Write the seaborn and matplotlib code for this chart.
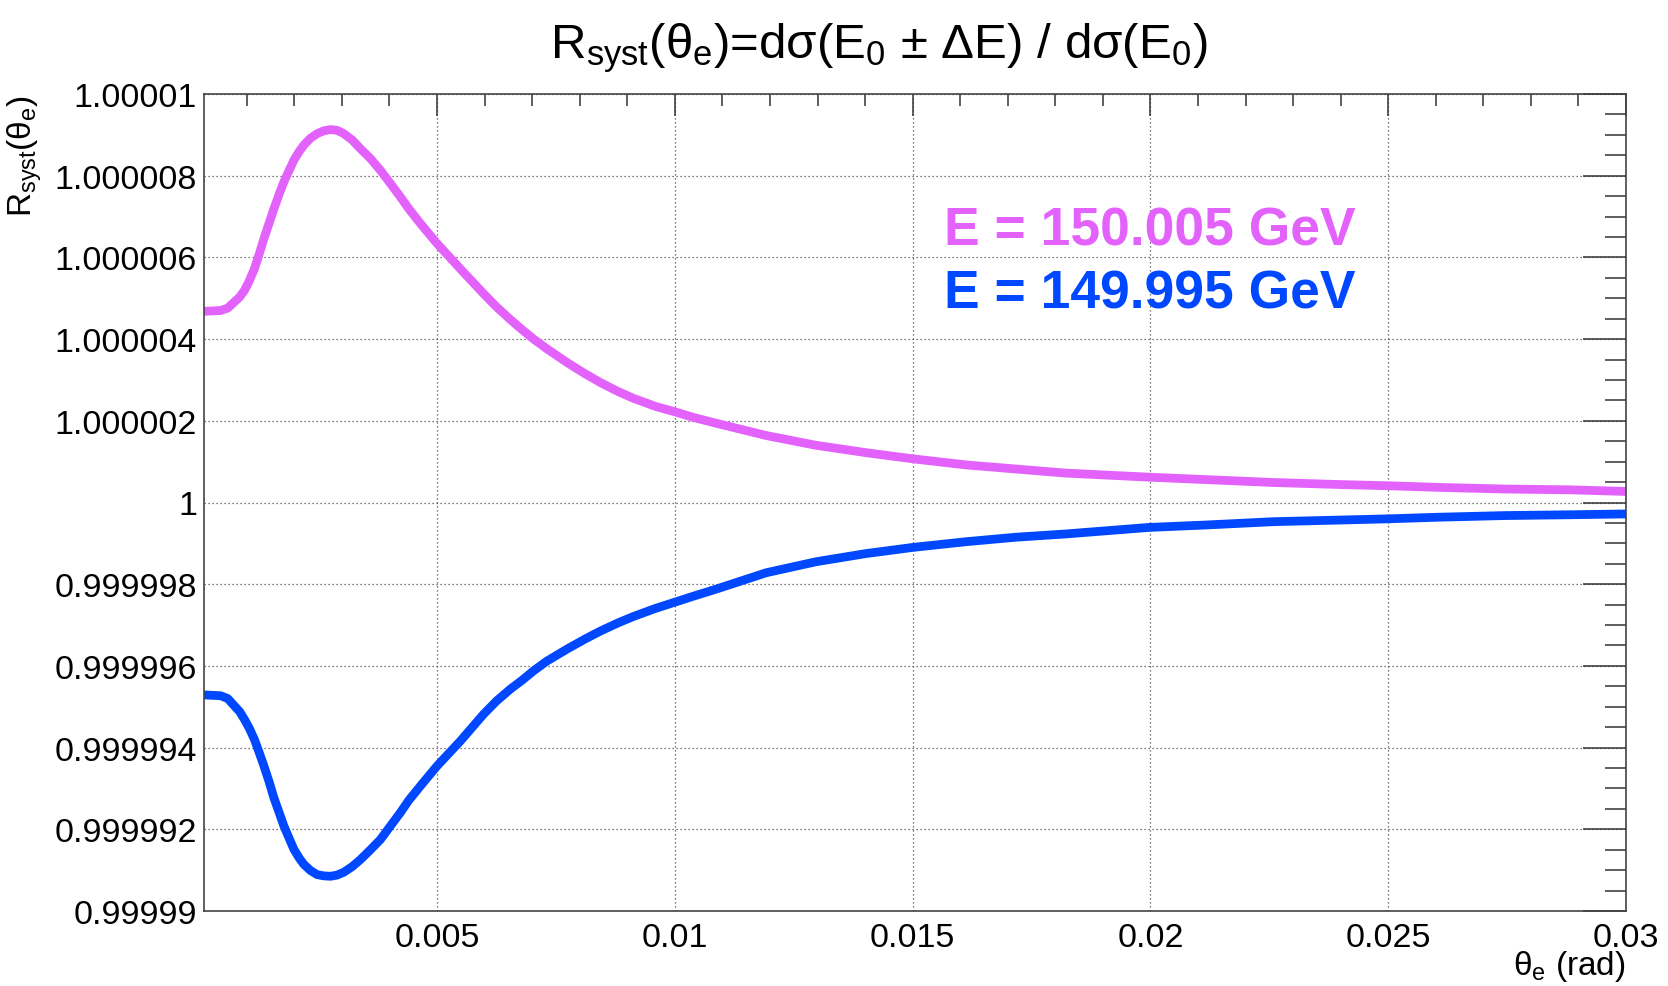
import matplotlib
matplotlib.use("Agg")
import matplotlib.pyplot as plt
from matplotlib.ticker import MultipleLocator, FuncFormatter
import pandas as pd
import seaborn as sns

# scattering angle of the electron (rad)
theta_e = [0.0001, 0.00045, 0.0006, 0.00074, 0.00085, 0.00095, 0.00105, 0.00116,
           0.00126, 0.00136, 0.00147, 0.00157, 0.00168, 0.00178, 0.00189, 0.00199,
           0.0021, 0.0022, 0.00234, 0.00248, 0.00262, 0.00276, 0.0029, 0.00304,
           0.00322, 0.00339, 0.0036, 0.00381, 0.004, 0.00423, 0.0044, 0.00465,
           0.005, 0.00549, 0.00598, 0.00625, 0.00654, 0.0068, 0.00703, 0.0073,
           0.00773, 0.0081, 0.00843, 0.0088, 0.00913, 0.0096, 0.01, 0.0104,
           0.01087, 0.01192, 0.01297, 0.01402, 0.015, 0.01612, 0.01717, 0.01822,
           0.01997, 0.02118, 0.02258, 0.02397, 0.025, 0.02606, 0.02745, 0.02884,
           0.03]

# R_syst for E0 + dE
r_plus = [1.00000468, 1.00000470, 1.00000476, 1.00000491, 1.00000503, 1.00000519,
          1.00000542, 1.00000572, 1.00000608, 1.00000646, 1.00000684, 1.00000719,
          1.00000755, 1.00000785, 1.00000813, 1.00000838, 1.00000859, 1.00000875,
          1.00000892, 1.00000903, 1.00000910, 1.00000913, 1.00000911, 1.00000903,
          1.00000887, 1.00000866, 1.00000842, 1.00000813, 1.00000784, 1.00000748,
          1.00000720, 1.00000683, 1.00000634, 1.00000572, 1.00000511, 1.00000479,
          1.00000448, 1.00000422, 1.00000400, 1.00000377, 1.00000343, 1.00000316,
          1.00000294, 1.00000272, 1.00000255, 1.00000235, 1.00000222, 1.00000208,
          1.00000194, 1.00000164, 1.00000140, 1.00000122, 1.00000107, 1.00000092,
          1.00000082, 1.00000072, 1.00000062, 1.00000056, 1.00000049, 1.00000044,
          1.00000041, 1.00000037, 1.00000033, 1.00000031, 1.00000027]

# R_syst for E0 - dE
r_minus = [0.99999529, 0.99999527, 0.99999520, 0.99999502, 0.99999488, 0.99999469,
           0.99999448, 0.99999420, 0.99999388, 0.99999355, 0.99999316, 0.99999277,
           0.99999241, 0.99999208, 0.99999178, 0.99999151, 0.99999130, 0.99999114,
           0.99999099, 0.99999089, 0.99999086, 0.99999085, 0.99999088, 0.99999095,
           0.99999109, 0.99999126, 0.99999150, 0.99999175, 0.99999205, 0.99999241,
           0.99999270, 0.99999306, 0.99999355, 0.99999416, 0.99999482, 0.99999514,
           0.99999543, 0.99999566, 0.99999588, 0.99999611, 0.99999641, 0.99999665,
           0.99999685, 0.99999705, 0.99999721, 0.99999741, 0.99999756, 0.99999771,
           0.99999788, 0.99999828, 0.99999855, 0.99999875, 0.99999890, 0.99999904,
           0.99999915, 0.99999923, 0.99999939, 0.99999945, 0.99999953, 0.99999957,
           0.99999960, 0.99999964, 0.99999968, 0.99999970, 0.99999972]

series_labels = ["E = 150.005 GeV", "E = 149.995 GeV"]
series_colors = ["#e362fc", "#0048ff"]

df = pd.concat([
    pd.DataFrame({"theta": theta_e, "R": r_plus, "energy": series_labels[0]}),
    pd.DataFrame({"theta": theta_e, "R": r_minus, "energy": series_labels[1]}),
], ignore_index=True)

sns.set_theme(style="white")
plt.rcParams["font.family"] = ["Liberation Sans", "DejaVu Sans"]
plt.rcParams["mathtext.fontset"] = "custom"
plt.rcParams["mathtext.rm"] = "Liberation Sans"
plt.rcParams["mathtext.it"] = "Liberation Sans"
plt.rcParams["mathtext.bf"] = "Liberation Sans:bold"
plt.rcParams["text.color"] = "black"
plt.rcParams["xtick.labelcolor"] = "black"
plt.rcParams["ytick.labelcolor"] = "black"

W, H = 1668, 987
fig = plt.figure(figsize=(W / 100, H / 100), dpi=100)
ax = fig.add_axes([204 / W, 1 - 912 / H, (1626 - 204) / W, (912 - 95) / H])

sns.lineplot(data=df, x="theta", y="R", hue="energy", palette=series_colors,
             hue_order=series_labels, linewidth=6.3, legend=False, ax=ax,
             solid_capstyle="butt", solid_joinstyle="round",
             estimator=None, sort=False)

ax.set_xlim(0.0001, 0.03)
ax.set_ylim(0.99999, 1.00001)

ax.xaxis.set_major_locator(MultipleLocator(0.005))
ax.xaxis.set_minor_locator(MultipleLocator(0.001))
ax.yaxis.set_major_locator(MultipleLocator(2e-6))
ax.yaxis.set_minor_locator(MultipleLocator(0.5e-6))


def trim(v, digits):
    return f"{v:.{digits}f}".rstrip("0").rstrip(".")


ax.xaxis.set_major_formatter(FuncFormatter(lambda v, p: trim(v, 3)))
ax.yaxis.set_major_formatter(FuncFormatter(lambda v, p: trim(v, 6)))

ax.tick_params(which="both", direction="in", top=True, right=True,
               color="#333333", width=1.1, labelsize=24.5, labelcolor="black")
ax.tick_params(axis="x", which="major", length=16, pad=8)
ax.tick_params(axis="x", which="minor", length=8.6)
ax.tick_params(axis="y", which="major", length=31, pad=5)
ax.tick_params(axis="y", which="minor", length=15)

ax.grid(True, which="major", linestyle=(0, (1, 2.2)), color="0.3", linewidth=0.9)
ax.set_axisbelow(True)
for sp in ax.spines.values():
    sp.set_color("#444444")
    sp.set_linewidth(1.2)

ax.set_xlabel("")
ax.set_ylabel("")

# axis titles, ROOT style: flush with the axis ends
fig.text(1626 / W, 1 - 975 / H, r"θ$_{\mathrm{e}}$ (rad)", ha="right", va="baseline",
         fontsize=24)
fig.text(44 / W, 1 - 95 / H, r"R$_{\mathrm{syst}}$(θ$_{\mathrm{e}}$)", ha="right",
         va="bottom", rotation=90, fontsize=24, rotation_mode="anchor")

fig.text(879 / W, 1 - 58 / H,
         r"R$_{\mathrm{syst}}$(θ$_{\mathrm{e}}$)=dσ(E$_{\mathrm{0}}$ ± ΔE) / dσ(E$_{\mathrm{0}}$)",
         ha="center", va="baseline", fontsize=35.5)

fig.text(944 / W, 1 - 245 / H, series_labels[0], color=series_colors[0],
         fontsize=38.4, fontweight="bold", ha="left", va="baseline")
fig.text(944 / W, 1 - 309 / H, series_labels[1], color=series_colors[1],
         fontsize=38.4, fontweight="bold", ha="left", va="baseline")

fig.savefig("out.png", dpi=100, facecolor="white")
